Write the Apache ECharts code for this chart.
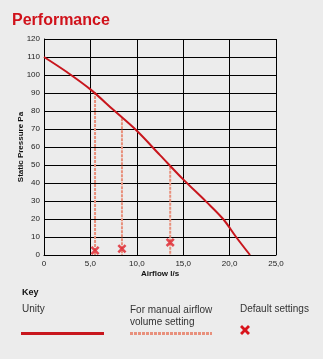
<!DOCTYPE html>
<html>
<head>
<meta charset="utf-8">
<script src="https://cdn.jsdelivr.net/npm/echarts@6/dist/echarts.min.js"></script>
<style>
  html, body { margin: 0; padding: 0; background: #ececec; }
  #chart { width: 323px; height: 359px; }
</style>
</head>
<body>
<div id="chart"></div>
<script>
// Fan performance curve: airflow (l/s) against static pressure (Pa)
const curveAirflow  = [0, 2.5, 5, 7.5, 10, 12.5, 15, 17.5, 19.3, 20.7, 22.2];
const curvePressure = [110, 101.5, 92, 80.5, 69, 55.5, 42, 29.5, 20, 10, 0];

// Manual airflow volume settings (drop lines from the curve)
const manualAirflow  = [5.5, 8.4, 13.6];
const manualPressure = [90.5, 76, 49];

// Default settings markers
const defaultAirflow  = [5.5, 8.4, 13.6];
const defaultPressure = [2.5, 3.5, 7];

const xTicks = { min: 0, max: 25, step: 5 };
const yTicks = { min: 0, max: 120, step: 10 };

const RED = '#c8161d';
const SALMON = '#e8907c';
const CROSS_PTS = [[0,2],[2,0],[5,3],[8,0],[10,2],[7,5],[10,8],[8,10],[5,7],[2,10],[0,8],[3,5]];
const CROSS = 'path://M' + CROSS_PTS.map(p => p.join(',')).join(' L') + ' Z';
const FONT = '"Liberation Sans", Arial, sans-serif';

// X shape for the key, as polygon points around (cx, cy)
function crossPoints(cx, cy, s) {
  return CROSS_PTS.map(([x, y]) => [cx + (x - 5) * s / 10, cy + (y - 5) * s / 10]);
}

const series = [];

manualAirflow.forEach((x, i) => {
  series.push({
    type: 'line',
    data: [[x, manualPressure[i]], [x, 0]],
    symbol: 'none',
    lineStyle: { color: SALMON, width: 2, type: [3, 1] },
    z: 2
  });
});

series.push({
  type: 'line',
  data: curveAirflow.map((x, i) => [x, curvePressure[i]]),
  smooth: 0.35,
  symbol: 'none',
  lineStyle: { color: RED, width: 2 },
  z: 3
});

series.push({
  type: 'scatter',
  data: defaultAirflow.map((x, i) => [x, defaultPressure[i]]),
  symbol: CROSS,
  symbolSize: 9,
  itemStyle: { color: '#e0202a' },
  z: 4
});

const chart = echarts.init(document.getElementById('chart'), null, { renderer: 'canvas' });
chart.setOption({
  backgroundColor: '#ececec',
  animation: false,
  title: {
    text: 'Performance',
    left: 7, top: 8,
    textStyle: { color: '#d0121b', fontSize: 16, fontWeight: 'bold', fontFamily: FONT }
  },
  grid: { left: 44, right: 47, top: 39, bottom: 104 },
  xAxis: {
    type: 'value',
    min: xTicks.min, max: xTicks.max, interval: xTicks.step,
    name: 'Airflow l/s',
    nameLocation: 'middle',
    nameMoveOverlap: false,
    nameGap: 15,
    nameTextStyle: { fontSize: 8, fontWeight: 'bold', color: '#111', fontFamily: FONT },
    axisLine: { lineStyle: { color: '#000', width: 1 } },
    axisTick: { show: false },
    axisLabel: {
      fontSize: 8, color: '#222', margin: 5, fontFamily: FONT,
      formatter: v => v === 0 ? '0' : v.toFixed(1).replace('.', ',')
    },
    splitLine: { show: true, lineStyle: { color: '#000', width: 1 } }
  },
  yAxis: {
    type: 'value',
    min: yTicks.min, max: yTicks.max, interval: yTicks.step,
    name: 'Static Pressure Pa',
    nameLocation: 'middle',
    nameMoveOverlap: false,
    nameGap: 19,
    nameTextStyle: { fontSize: 8, fontWeight: 'bold', color: '#111', fontFamily: FONT },
    axisLine: { show: true, lineStyle: { color: '#000', width: 1 } },
    axisTick: { show: false },
    axisLabel: { fontSize: 8, color: '#222', margin: 4, fontFamily: FONT },
    splitLine: { show: true, lineStyle: { color: '#000', width: 1 } }
  },
  series: series,
  graphic: [
    { type: 'text', x: 22, y: 288, style: { text: 'Key', fontSize: 9, fontWeight: 'bold', fontFamily: FONT, fill: '#111' } },
    { type: 'text', x: 22, y: 304, style: { text: 'Unity', fontSize: 10, fontFamily: FONT, fill: '#333' } },
    { type: 'rect', shape: { x: 21, y: 332, width: 83, height: 3 }, style: { fill: RED } },
    { type: 'text', x: 130, y: 304, style: { text: 'For manual airflow\nvolume setting', fontSize: 10, fontFamily: FONT, fill: '#333', lineHeight: 12 } },
    { type: 'line', shape: { x1: 130, y1: 333.5, x2: 212, y2: 333.5 }, style: { stroke: SALMON, lineWidth: 3, lineDash: [3, 1] } },
    { type: 'text', x: 240, y: 304, style: { text: 'Default settings', fontSize: 10, fontFamily: FONT, fill: '#333' } },
    { type: 'polygon', shape: { points: crossPoints(245, 330, 10) }, style: { fill: '#d8141c' } }
  ]
});
</script>
</body>
</html>
